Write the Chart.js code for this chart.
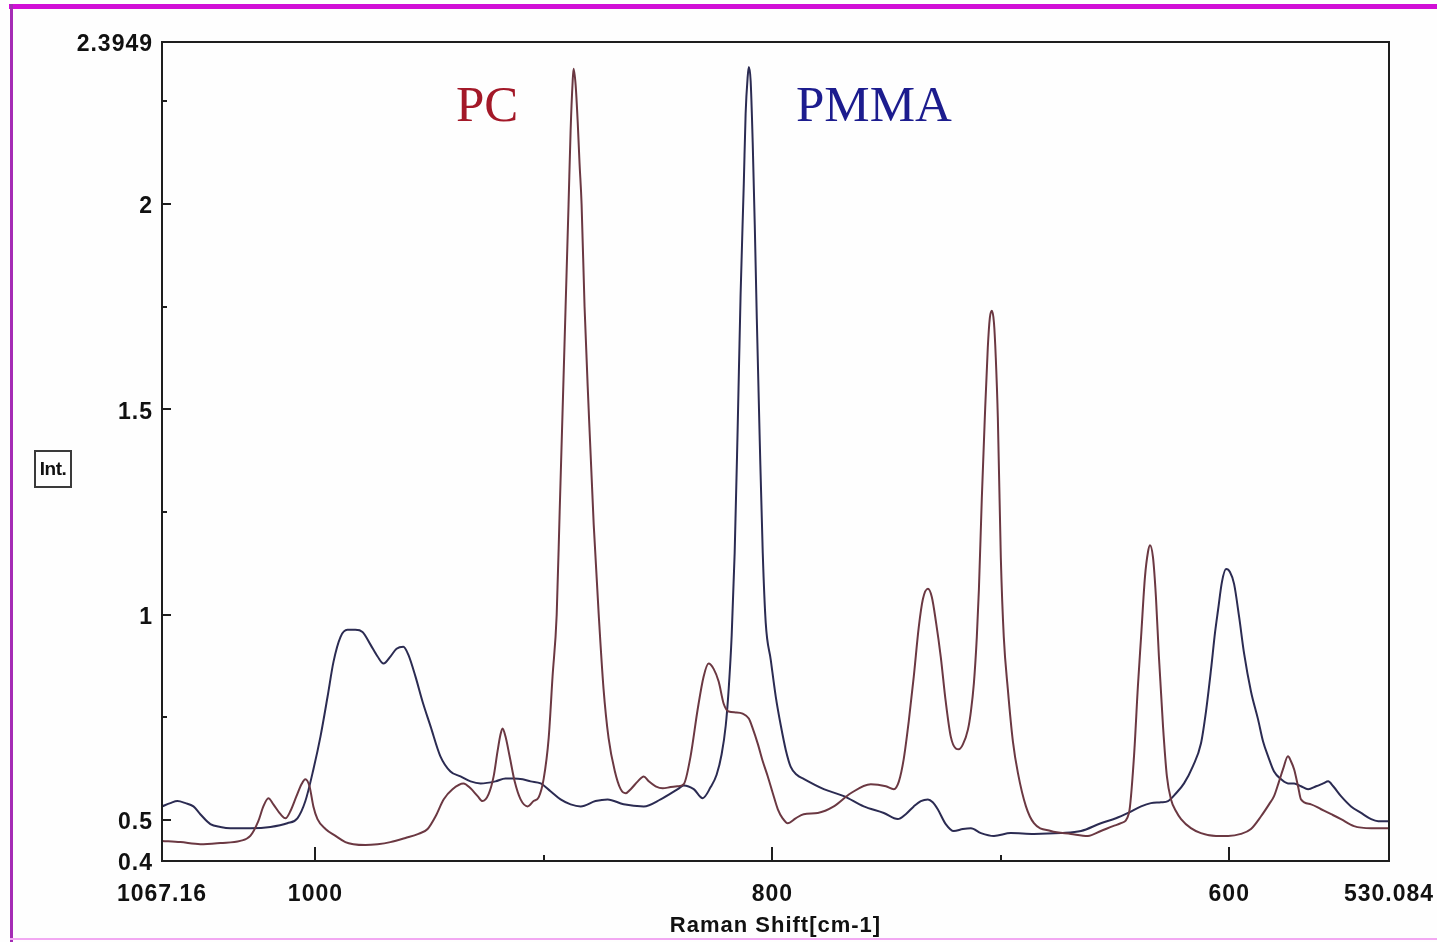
<!DOCTYPE html>
<html>
<head>
<meta charset="utf-8">
<title>Raman spectra PC / PMMA</title>
<script src="https://cdn.jsdelivr.net/npm/chart.js@4.4.1/dist/chart.umd.min.js"></script>
<style>
  html, body { margin: 0; padding: 0; background: #fff; }
  #wrap { position: relative; width: 1437px; height: 942px; overflow: hidden; background: #fefefe; }
  #spectrum { position: absolute; left: 0; top: 0; }
  .edge { position: absolute; }
  #edgeTop { left: 9px; right: 0; top: 4px; height: 5px; background: #d10fd6; }
  #edgeLeft { left: 10px; top: 4px; bottom: 0; width: 3px; background: #a52cb5; }
  #edgeBottom { left: 10px; right: 0; top: 938px; height: 2px; background: #f2a8f2; }
  .tag { position: absolute; font-family: "Liberation Serif", "DejaVu Serif", serif; font-size: 51px; line-height: 1; }
  #tagPC { left: 456px; top: 79px; color: #a31828; }
  #tagPMMA { left: 796px; top: 79px; color: #1c1c8e; }
  #intBox {
    position: absolute; left: 34px; top: 450px; width: 38px; height: 38px;
    border: 2px solid #3a3a3a; box-sizing: border-box;
    font-family: "Liberation Sans", Arial, sans-serif; letter-spacing: -0.5px;
    font-weight: bold; font-size: 19px; line-height: 33px; text-align: center; color: #111;
  }
</style>
</head>
<body>
<div id="wrap">
  <canvas id="spectrum" width="1437" height="942"></canvas>
  <div class="edge" id="edgeTop"></div>
  <div class="edge" id="edgeLeft"></div>
  <div class="edge" id="edgeBottom"></div>
  <div class="tag" id="tagPC">PC</div>
  <div class="tag" id="tagPMMA">PMMA</div>
  <div id="intBox">Int.</div>
</div>
<script>
// Raman shift (cm-1) and intensity, PC
const pcShift = [
  1067.1, 1059.1, 1050.4, 1041.6, 1032.9, 1028.5, 1025.0, 1022.8, 1020.6, 1018.4,
  1015.3, 1013.1, 1011.0, 1008.3, 1006.1, 1004.4, 1002.6, 1000.9, 999.1, 995.6,
  991.2, 986.9, 983.4, 978.1, 972.8, 967.2, 960.6, 954.9, 950.9, 947.4,
  943.9, 940.0, 935.2, 932.1, 929.0, 926.9, 924.2, 922.0, 920.3, 919.0,
  918.1, 916.8, 915.0, 912.8, 910.2, 907.1, 904.5, 902.3, 900.1, 897.9,
  896.2, 894.4, 893.1, 891.8, 890.5, 889.2, 888.3, 887.4, 887.0, 886.1,
  885.2, 884.4, 883.5, 882.2, 880.4, 878.2, 876.0, 873.9, 871.7, 869.0,
  866.4, 864.2, 862.0, 858.9, 856.3, 854.1,
  851.1, 848.0, 844.5, 841.4, 838.8, 835.8, 832.7, 830.1, 827.9, 825.7,
  823.5, 821.3, 819.1, 816.0, 813.0, 810.3, 808.6, 806.4, 804.2, 802.0,
  799.8, 797.6, 795.5, 793.3, 789.8, 786.3, 780.1, 773.1, 765.7, 756.9,
  750.3, 746.8, 744.6, 742.5, 740.3, 738.1, 735.9, 734.1, 731.9, 730.2,
  728.4, 726.3, 724.1, 721.9, 719.7, 718.4, 716.6, 714.4, 713.1, 711.8,
  710.5, 709.6, 708.3, 707.0, 705.7, 704.8, 703.9, 703.0, 702.2, 701.3,
  700.0, 698.7, 696.9, 694.7, 692.5, 689.0, 685.5, 678.1, 669.3, 661.9,
  656.2, 650.9, 647.4, 643.9, 641.7, 640.0, 638.6, 636.9, 635.6, 634.7,
  633.4, 632.1, 630.8, 629.0, 627.3, 625.5, 623.3, 621.1, 616.8, 612.4,
  605.8, 600.5, 594.9, 590.5, 586.1, 582.6, 580.4, 578.2, 576.5, 574.3,
  573.0, 571.6, 569.9, 568.6, 564.2, 559.8, 555.4, 551.1, 545.4, 537.9,
  530.1
];
const pcInt = [
  0.449, 0.446, 0.441, 0.444, 0.449, 0.461, 0.497, 0.533, 0.553, 0.538,
  0.514, 0.504, 0.521, 0.558, 0.587, 0.599, 0.582, 0.533, 0.502, 0.478,
  0.461, 0.446, 0.441, 0.439, 0.441, 0.446, 0.456, 0.466, 0.478, 0.509,
  0.550, 0.575, 0.589, 0.577, 0.558, 0.546, 0.563, 0.606, 0.667, 0.708,
  0.723, 0.703, 0.655, 0.594, 0.550, 0.533, 0.546, 0.555, 0.600, 0.700,
  0.850, 1.000, 1.250, 1.500, 1.750, 2.000, 2.180, 2.300, 2.330, 2.290,
  2.200, 2.100, 2.000, 1.750, 1.500, 1.220, 1.000, 0.820, 0.700, 0.620,
  0.575, 0.565, 0.575, 0.594, 0.606, 0.594,
  0.582, 0.577, 0.580, 0.582, 0.587, 0.655, 0.769, 0.849, 0.881, 0.868,
  0.837, 0.783, 0.764, 0.762, 0.759, 0.747, 0.723, 0.686, 0.643, 0.606,
  0.565, 0.526, 0.504, 0.492, 0.504, 0.514, 0.517, 0.533, 0.565, 0.587,
  0.582, 0.575, 0.594, 0.648, 0.740, 0.849, 0.970, 1.038, 1.063, 1.043,
  0.983, 0.898, 0.788, 0.703, 0.674, 0.672, 0.684, 0.720, 0.764, 0.832,
  0.946, 1.060, 1.286, 1.480, 1.650, 1.723, 1.740, 1.711, 1.626, 1.480,
  1.140, 0.946, 0.817, 0.691, 0.614, 0.533, 0.492, 0.473, 0.466, 0.461,
  0.473, 0.485, 0.492, 0.517, 0.655, 0.825, 0.946, 1.092, 1.152, 1.169,
  1.140, 1.043, 0.898, 0.728, 0.606, 0.550, 0.521, 0.502, 0.480, 0.468,
  0.461, 0.461, 0.466, 0.478, 0.509, 0.538, 0.558, 0.594, 0.623, 0.655,
  0.643, 0.623, 0.582, 0.550, 0.538, 0.526, 0.514, 0.502, 0.485, 0.480,
  0.480
];

// Raman shift (cm-1) and intensity, PMMA
const pmmaShift = [
  1067.1, 1063.5, 1060.4, 1056.9, 1053.4, 1050.4, 1046.0, 1041.6, 1037.2, 1028.5,
  1019.7, 1012.3, 1007.9, 1004.4, 1000.9, 997.8, 994.7, 992.1, 989.0, 986.0,
  982.5, 979.4, 975.9, 972.8, 970.2, 967.2, 964.5, 961.5, 959.3, 956.2,
  953.1, 949.6, 945.3, 940.9, 936.5, 932.1, 927.7, 921.2, 916.8, 913.3,
  909.3, 905.8, 901.4, 897.1, 892.7, 888.3, 883.9, 877.4, 872.1, 865.1,
  856.3, 848.9, 841.4, 838.8, 834.4, 830.5, 827.0, 824.4, 822.2, 820.4,
  819.1, 817.8, 816.5, 815.2, 813.9, 812.5, 811.7, 810.8, 810.3, 809.5,
  808.6, 807.7, 806.8, 805.5, 804.2, 802.9, 800.7, 798.5, 796.3, 794.1,
  792.0, 789.3, 786.3, 777.5, 768.7, 760.0, 751.2, 745.1,
  741.6, 738.1, 735.0, 731.9, 729.8, 727.6, 724.1, 720.6, 716.6, 713.1,
  708.7, 703.0, 695.6, 685.5, 673.7, 664.9, 656.2, 649.6, 644.3, 638.6,
  634.3, 629.9, 626.8, 623.3, 619.8, 615.9, 612.4, 610.2, 608.0, 606.2,
  604.9, 603.2, 601.4, 599.7, 597.9, 595.7, 593.5, 590.5, 587.4, 585.2,
  583.0, 580.4, 577.3, 574.3, 571.6, 568.6, 565.5, 562.0, 558.9, 556.7,
  554.5, 551.1, 546.7, 542.3, 537.9, 534.8, 530.1
];
const pmmaInt = [
  0.533, 0.541, 0.546, 0.541, 0.533, 0.514, 0.490, 0.483, 0.480, 0.480,
  0.483, 0.492, 0.504, 0.546, 0.623, 0.703, 0.800, 0.885, 0.946, 0.963,
  0.963, 0.958, 0.927, 0.898, 0.881, 0.898, 0.917, 0.922, 0.902, 0.849,
  0.788, 0.728, 0.655, 0.618, 0.606, 0.594, 0.589, 0.594, 0.601, 0.601,
  0.599, 0.594, 0.589, 0.570, 0.550, 0.538, 0.533, 0.546, 0.550, 0.538,
  0.533, 0.550, 0.575, 0.584, 0.575, 0.553, 0.580, 0.610, 0.660, 0.730,
  0.820, 0.950, 1.150, 1.450, 1.780, 2.050, 2.220, 2.310, 2.334, 2.300,
  2.150, 1.950, 1.720, 1.420, 1.150, 0.980, 0.890, 0.800, 0.730, 0.670,
  0.630, 0.610, 0.600, 0.575, 0.558, 0.533, 0.517, 0.502,
  0.514, 0.533, 0.546, 0.550, 0.543, 0.526, 0.490, 0.473, 0.478, 0.480,
  0.468, 0.461, 0.468, 0.466, 0.468, 0.473, 0.492, 0.504, 0.517, 0.533,
  0.541, 0.543, 0.546, 0.565, 0.589, 0.631, 0.686, 0.764, 0.866, 0.958,
  1.012, 1.080, 1.111, 1.104, 1.075, 0.995, 0.905, 0.813, 0.745, 0.691,
  0.655, 0.618, 0.599, 0.589, 0.589, 0.582, 0.575, 0.582, 0.589, 0.594,
  0.582, 0.558, 0.533, 0.517, 0.502, 0.497, 0.497
];

// axis ticks
const xLabelTicks = [1067.16, 1000, 800, 600, 530.084];
const xMajorMarks = [1000, 800, 600];
const xMinorMarks = [900, 700];
const yLabelTicks = [0.4, 0.5, 1, 1.5, 2, 2.3949];
const yMajorMarks = [0.5, 1, 1.5, 2];
const yMinorMarks = [0.75, 1.25, 1.75, 2.25];

const PC_COLOR = '#6b3842';
const PMMA_COLOR = '#2b2b52';
const TICK_FONT = { family: '"Liberation Sans", Arial, sans-serif', size: 23, weight: 'bold' };
const TITLE_FONT = { family: '"Liberation Sans", Arial, sans-serif', size: 22, weight: 'bold' };

function toPoints(xs, ys) {
  return xs.map((x, i) => ({ x: x, y: ys[i] }));
}

// box around the plot and the short inward tick marks
const framePlugin = {
  id: 'frame',
  beforeDraw(chart) {
    chart.ctx.letterSpacing = '1px';
  },
  afterDraw(chart) {
    const { ctx, chartArea: a, scales } = chart;
    ctx.save();
    ctx.letterSpacing = '0px';
    ctx.strokeStyle = '#1e1e1e';
    ctx.lineWidth = 2;
    ctx.strokeRect(a.left, a.top, a.right - a.left, a.bottom - a.top);

    ctx.beginPath();
    yMajorMarks.forEach(v => {
      const y = Math.round(scales.y.getPixelForValue(v));
      ctx.moveTo(a.left, y); ctx.lineTo(a.left + 9, y);
    });
    yMinorMarks.forEach(v => {
      const y = Math.round(scales.y.getPixelForValue(v));
      ctx.moveTo(a.left, y); ctx.lineTo(a.left + 5, y);
    });
    xMajorMarks.forEach(v => {
      const x = Math.round(scales.x.getPixelForValue(v));
      ctx.moveTo(x, a.bottom); ctx.lineTo(x, a.bottom - 14);
    });
    xMinorMarks.forEach(v => {
      const x = Math.round(scales.x.getPixelForValue(v));
      ctx.moveTo(x, a.bottom); ctx.lineTo(x, a.bottom - 6);
    });
    ctx.stroke();
    ctx.restore();
  }
};

const ctx = document.getElementById('spectrum').getContext('2d');
const spectrumChart = new Chart(ctx, {
  type: 'line',
  data: {
    datasets: [
      {
        label: 'PC',
        data: toPoints(pcShift, pcInt),
        borderColor: PC_COLOR,
        borderWidth: 2,
        pointRadius: 0,
        cubicInterpolationMode: 'monotone'
      },
      {
        label: 'PMMA',
        data: toPoints(pmmaShift, pmmaInt),
        borderColor: PMMA_COLOR,
        borderWidth: 2,
        pointRadius: 0,
        cubicInterpolationMode: 'monotone'
      }
    ]
  },
  options: {
    responsive: false,
    animation: false,
    layout: { padding: { top: 42, right: 48, left: 0, bottom: 0 } },
    plugins: {
      legend: { display: false },
      tooltip: { enabled: false }
    },
    scales: {
      x: {
        type: 'linear',
        reverse: true,
        min: 530.084,
        max: 1067.16,
        grid: { display: false, drawTicks: false },
        border: { display: false },
        afterBuildTicks: s => { s.ticks = xLabelTicks.map(v => ({ value: v })); },
        afterFit: s => {
          s.height = 81;
          // end labels hang over the margins, keep them from shrinking the plot
          s.paddingLeft = 0;
          s.paddingRight = 0;
        },
        ticks: {
          autoSkip: false,
          maxRotation: 0,
          padding: 20,
          color: '#111',
          font: TICK_FONT,
          callback: v => String(v)
        },
        title: {
          display: true,
          text: 'Raman Shift[cm-1]',
          color: '#111',
          font: TITLE_FONT,
          padding: { top: 0, bottom: 3 }
        }
      },
      y: {
        min: 0.4,
        max: 2.3949,
        grid: { display: false, drawTicks: false },
        border: { display: false },
        afterBuildTicks: s => { s.ticks = yLabelTicks.map(v => ({ value: v })); },
        afterFit: s => {
          s.width = 162;
          s.paddingTop = 0;
          s.paddingBottom = 0;
        },
        ticks: {
          autoSkip: false,
          padding: 9,
          labelOffset: 3,
          color: '#111',
          font: TICK_FONT,
          callback: v => String(v)
        }
      }
    }
  },
  plugins: [framePlugin]
});
</script>
</body>
</html>
